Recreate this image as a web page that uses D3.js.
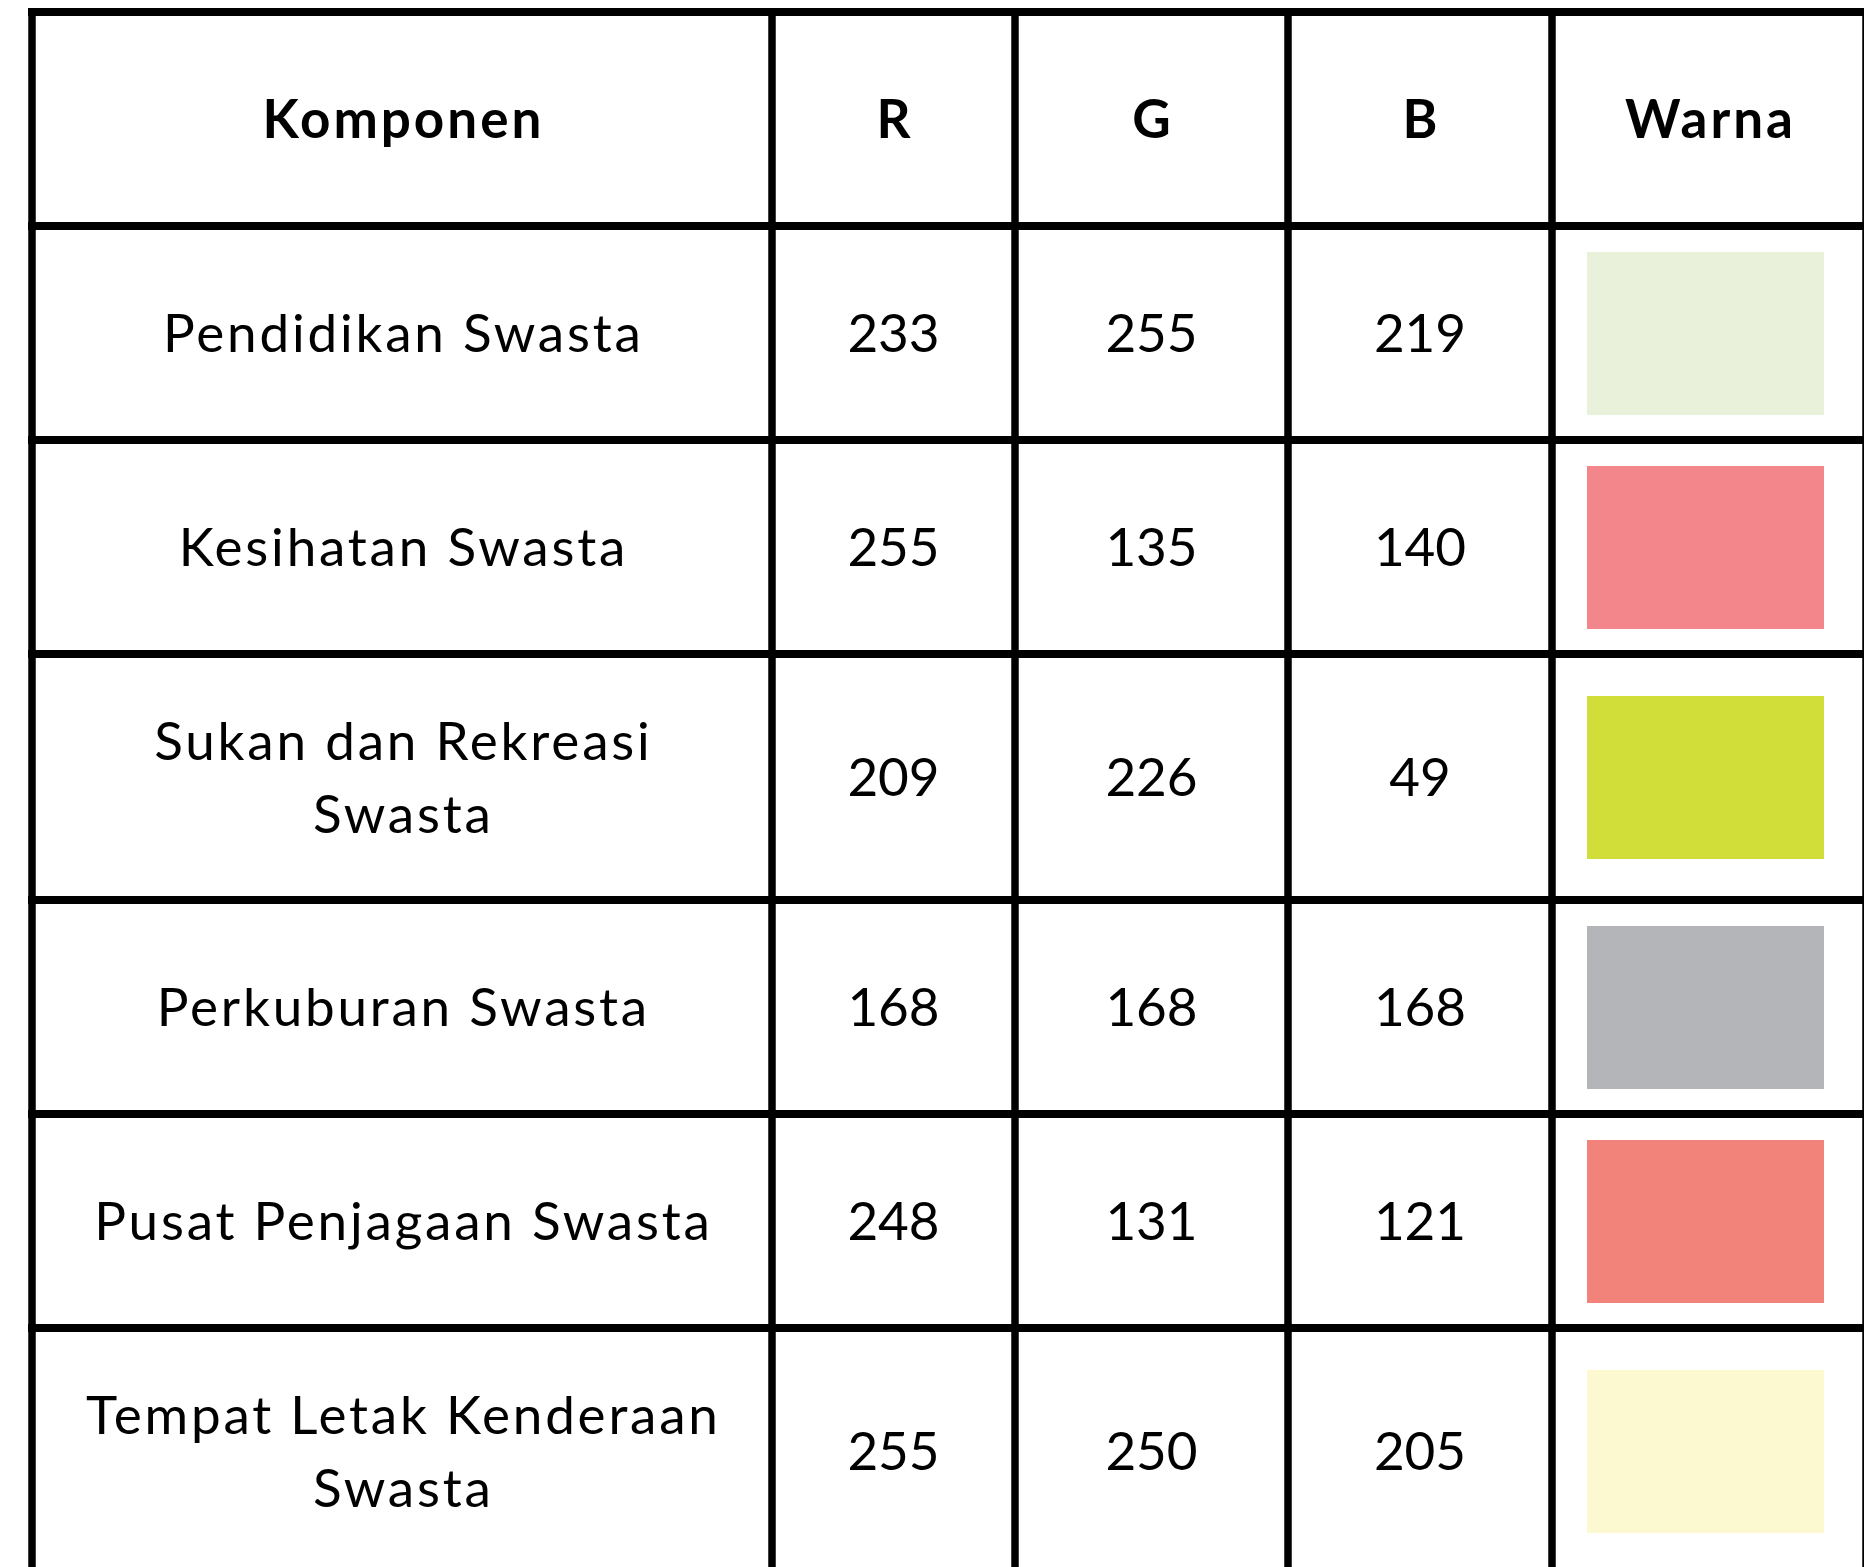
<!DOCTYPE html>
<html>
<head>
<meta charset="utf-8">
<script src="https://cdn.jsdelivr.net/npm/d3@7"></script>
<style>
  html, body { margin: 0; padding: 0; background: #ffffff; }
  svg { display: block; }
  text { font-family: Lato, "Noto Sans", sans-serif; fill: #000; }
</style>
</head>
<body>
<div id="table-chart"></div>
<script>
// Table data
const headers = ["Komponen", "R", "G", "B", "Warna"];
const components = [
    ["Pendidikan Swasta"],
    ["Kesihatan Swasta"],
    ["Sukan dan Rekreasi", "Swasta"],
    ["Perkuburan Swasta"],
    ["Pusat Penjagaan Swasta"],
    ["Tempat Letak Kenderaan", "Swasta"]
];
const rValues = [233, 255, 209, 168, 248, 255];
const gValues = [255, 135, 226, 168, 131, 250];
const bValues = [219, 140, 49, 168, 121, 205];
const swatchColors = ["#e9f1db", "#f2868b", "#d1de3a", "#b4b5b8", "#f1837a", "#fcf9d0"];

function createTable() {
    const width = 1864;
    const height = 1567;

    // column edges (line centres)
    const colEdges = [32, 772, 1015, 1288, 1552, 1866];
    const top = 12;
    const baseRow = 214;
    const extraLine = 32;
    const lineGap = 73;
    const capHalf = 19;

    // row heights: header + one per component
    const rowHeights = [baseRow].concat(components.map(c => baseRow + (c.length - 1) * extraLine));
    const rowEdges = [top];
    rowHeights.forEach(h => rowEdges.push(rowEdges[rowEdges.length - 1] + h));

    const x = d3.scaleOrdinal().domain(d3.range(5)).range(d3.range(5).map(i => (colEdges[i] + colEdges[i + 1]) / 2));
    const y = d3.scaleOrdinal().domain(d3.range(rowHeights.length)).range(d3.range(rowHeights.length).map(i => (rowEdges[i] + rowEdges[i + 1]) / 2));

    const svg = d3.select("#table-chart")
        .append("svg")
        .attr("width", width)
        .attr("height", height);

    // Swatches
    svg.selectAll(".swatch")
        .data(swatchColors)
        .enter()
        .append("rect")
        .attr("class", "swatch")
        .attr("x", x(4) - 122)
        .attr("y", (d, i) => y(i + 1) - 81)
        .attr("width", 237)
        .attr("height", 163)
        .style("fill", d => d);

    // Grid lines
    svg.selectAll(".hline")
        .data(rowEdges)
        .enter()
        .append("line")
        .attr("class", "hline")
        .attr("x1", colEdges[0] - 4)
        .attr("x2", colEdges[colEdges.length - 1] + 4)
        .attr("y1", d => d)
        .attr("y2", d => d)
        .style("stroke", "#000")
        .style("stroke-width", 8);

    svg.selectAll(".vline")
        .data(colEdges)
        .enter()
        .append("line")
        .attr("class", "vline")
        .attr("x1", d => d)
        .attr("x2", d => d)
        .attr("y1", rowEdges[0] - 4)
        .attr("y2", rowEdges[rowEdges.length - 1] + 4)
        .style("stroke", "#000")
        .style("stroke-width", 7.5);

    // Header
    svg.selectAll(".header")
        .data(headers)
        .enter()
        .append("text")
        .attr("class", "header")
        .attr("x", (d, i) => x(i) + 1.5)
        .attr("y", y(0) + capHalf)
        .attr("text-anchor", "middle")
        .style("font-size", "53px")
        .style("font-weight", "bold")
        .style("letter-spacing", "3px")
        .text(d => d);

    // Component names (may wrap to two lines)
    const names = svg.selectAll(".name")
        .data(components)
        .enter()
        .append("text")
        .attr("class", "name")
        .attr("text-anchor", "middle")
        .style("font-size", "53px")
        .style("letter-spacing", "2.8px");

    names.selectAll("tspan")
        .data((d, i) => d.map((t, j) => ({ t, j, n: d.length, row: i + 1 })))
        .enter()
        .append("tspan")
        .attr("x", x(0) + 1.4)
        .attr("y", d => y(d.row) + capHalf + (d.j - (d.n - 1) / 2) * lineGap)
        .text(d => d.t);

    // Numeric columns
    [rValues, gValues, bValues].forEach((vals, c) => {
        svg.selectAll(".num-" + c)
            .data(vals)
            .enter()
            .append("text")
            .attr("class", "num-" + c)
            .attr("x", x(c + 1))
            .attr("y", (d, i) => y(i + 1) + capHalf)
            .attr("text-anchor", "middle")
            .style("font-size", "53px")
            .text(d => d);
    });
}

createTable();
</script>
</body>
</html>
